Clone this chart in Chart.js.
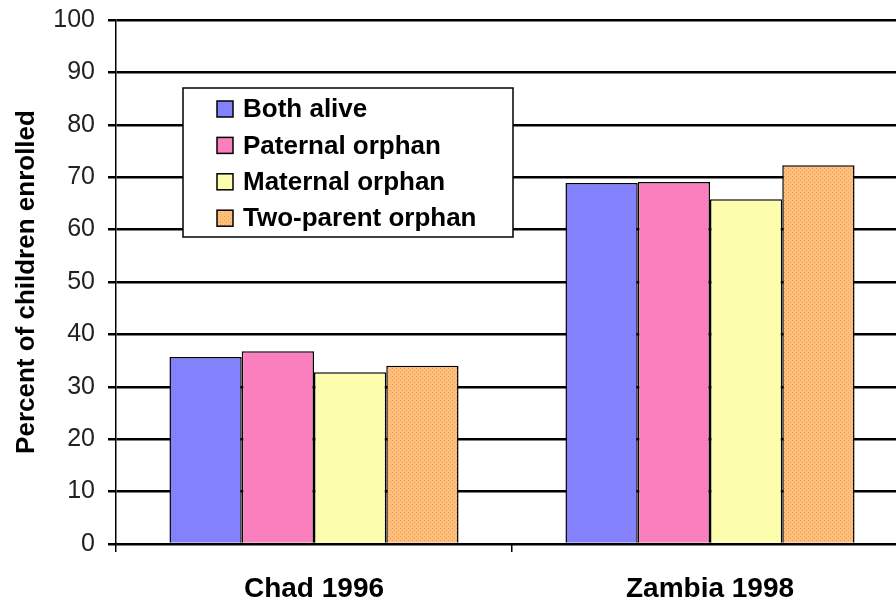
<!DOCTYPE html>
<html>
<head>
<meta charset="utf-8">
<script src="https://cdn.jsdelivr.net/npm/chart.js@4"></script>
<style>
  html, body { margin: 0; padding: 0; background: #fff; overflow: hidden; }
  #wrap { width: 908px; height: 601px; }
</style>
</head>
<body>
<div id="wrap"><canvas id="enrolChart" width="908" height="601"></canvas></div>
<script>
const categories = ['Chad 1996', 'Zambia 1998'];
const seriesNames = ['Both alive', 'Paternal orphan', 'Maternal orphan', 'Two-parent orphan'];
const bothAlive = [35.7, 68.9];
const paternalOrphan = [36.8, 69.1];
const maternalOrphan = [32.8, 65.8];
const twoParentOrphan = [34.0, 72.3];
const yTicks = [0, 10, 20, 30, 40, 50, 60, 70, 80, 90, 100];

const FONT = '"Liberation Sans", Arial, sans-serif';

// dotted fill like the old spreadsheet patterns
function makePattern(base, dot) {
    const c = document.createElement('canvas');
    c.width = 4; c.height = 4;
    const g = c.getContext('2d');
    g.fillStyle = base;
    g.fillRect(0, 0, 4, 4);
    g.fillStyle = dot;
    g.fillRect(0, 0, 1, 1);
    g.fillRect(2, 2, 1, 1);
    return g.createPattern(c, 'repeat');
}

const fills = [
    makePattern('#8080ff', '#9a8ef0'),
    makePattern('#ff80c0', '#e07aa8'),
    makePattern('#ffffb0', '#f0f0a0'),
    makePattern('#ffbf78', '#e8a070')
];

const legendBox = {
    id: 'legendBox',
    afterDraw(chart) {
        const ctx = chart.ctx;
        ctx.save();
        ctx.fillStyle = '#fff';
        ctx.fillRect(183, 88, 330, 149);
        ctx.strokeStyle = '#000';
        ctx.lineWidth = 1.5;
        ctx.strokeRect(183, 88, 330, 149);
        ctx.font = 'bold 26px ' + FONT;
        ctx.textBaseline = 'middle';
        chart.data.datasets.forEach((ds, i) => {
            const y = 109 + i * 36.4;
            ctx.fillStyle = ds.backgroundColor;
            ctx.fillRect(217, y - 8, 16, 16);
            ctx.lineWidth = 1.5;
            ctx.strokeStyle = '#000';
            ctx.strokeRect(217, y - 8, 16, 16);
            ctx.fillStyle = '#000';
            ctx.fillText(ds.label, 243, y + 1);
        });
        ctx.restore();
    }
};

const values = [bothAlive, paternalOrphan, maternalOrphan, twoParentOrphan];

new Chart(document.getElementById('enrolChart'), {
    type: 'bar',
    data: {
        labels: categories,
        datasets: seriesNames.map((name, i) => ({
            label: name,
            data: values[i],
            backgroundColor: fills[i],
            borderColor: '#000',
            borderWidth: 1.5,
            borderSkipped: 'bottom',
            categoryPercentage: 0.73,
            barPercentage: 1.0
        }))
    },
    options: {
        responsive: false,
        animation: false,
        layout: { padding: { top: 20, left: 0, right: 0, bottom: 0 } },
        plugins: {
            legend: { display: false },
            tooltip: { enabled: false }
        },
        scales: {
            x: {
                grid: {
                    offset: true,
                    drawOnChartArea: false,
                    drawTicks: true,
                    tickLength: 8,
                    color: '#000',
                    lineWidth: 1.5
                },
                border: { color: '#000', width: 1.5 },
                ticks: {
                    color: '#000',
                    padding: 20,
                    font: { family: FONT, size: 28, weight: 'bold' }
                },
                afterFit(scale) { scale.height = 57; }
            },
            y: {
                min: 0,
                max: 100,
                afterBuildTicks(scale) { scale.ticks = yTicks.map(v => ({ value: v })); },
                grid: {
                    color: '#000',
                    lineWidth: 2.5,
                    tickLength: 8
                },
                border: { color: '#000', width: 1.5 },
                ticks: {
                    color: '#222',
                    padding: 13,
                    font: { family: FONT, size: 25 }
                },
                title: {
                    display: true,
                    text: 'Percent of children enrolled',
                    color: '#000',
                    padding: { top: 11, bottom: 0 },
                    font: { family: FONT, size: 26, weight: 'bold' }
                },
                afterFit(scale) {
                    scale.width = 116;
                    scale.paddingTop = 0;
                    scale.paddingBottom = 0;
                }
            }
        }
    },
    plugins: [legendBox]
});
</script>
</body>
</html>
